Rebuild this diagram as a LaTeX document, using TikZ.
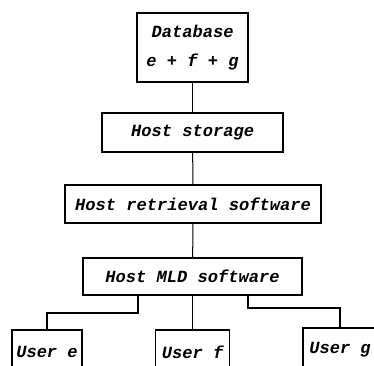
\documentclass[tikz,border=0pt]{standalone}
\usepackage{fontspec}
\setmainfont{Liberation Mono}
\usetikzlibrary{calc}

\begin{document}
\begin{tikzpicture}[align=center,
    box/.style={draw, line width=1.6pt, inner sep=0pt,
      font=\fontsize{17}{29}\selectfont\bfseries\itshape},
    link/.style={line width=1pt},
    branch/.style={line width=1.5pt}]
      \useasboundingbox (0,0) rectangle (13.09,-12.775);
      \clip (0,0) rectangle (13.09,-12.775);

      \node[box, minimum width=3.885cm, minimum height=2.415cm] (DB) at (6.74,-1.66) {Database\\ e + f + g};
      \node[box, minimum width=6.335cm, minimum height=1.365cm] (Store) at (6.74,-4.64) {Host storage};
      \node[box, minimum width=8.96cm, minimum height=1.33cm] (Retr) at (6.755,-7.14) {Host retrieval software};
      \node[box, minimum width=7.665cm, minimum height=1.295cm] (MLD) at (6.74,-9.68) {Host MLD software};

      \node[box, minimum width=2.45cm, minimum height=1.54cm] (UE) at (1.645,-12.32) {User e};
      \node[box, minimum width=2.59cm, minimum height=1.54cm] (UF) at (6.74,-12.32) {User f};
      \node[box, minimum width=2.6cm, minimum height=1.54cm] (UG) at (11.9,-12.25) {User g};

      \coordinate (L1) at (4.83,-10.955);
      \coordinate (R1) at (8.68,-10.78);

      \draw[link] (DB) -- (Store);
      \draw[link] (Store) -- (Retr);
      \draw[link] (Retr) -- (MLD);
      \draw[link] (MLD) -- (UF);
      \draw[branch] (L1 |- MLD.south) -- (L1) -| (UE.north);
      \draw[branch] (R1 |- MLD.south) -- (R1) -| (UG.north);
    \end{tikzpicture}
\end{document}
